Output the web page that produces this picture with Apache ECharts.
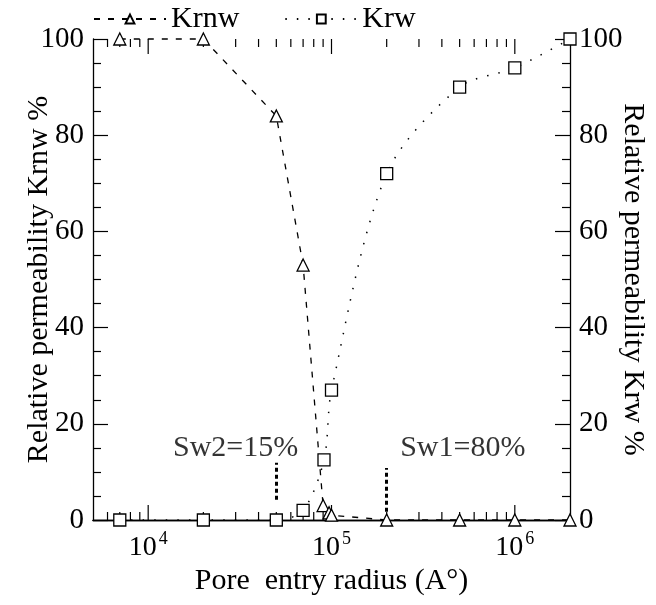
<!DOCTYPE html>
<html>
<head>
<meta charset="utf-8">
<script src="https://cdn.jsdelivr.net/npm/echarts@6/dist/echarts.min.js"></script>
<style>
  html, body { margin: 0; padding: 0; background: #fff; }
  #chart { width: 656px; height: 605px; }
</style>
</head>
<body>
<div id="chart"></div>
<script>
// pore entry radius (A°)
const radius = [7000, 20000, 50000, 70000, 90000, 97000, 100000, 200000, 500000, 1000000, 2000000];
const krnw = [100, 100, 84, 53, 3, 1.5, 1, 0, 0, 0, 0];
const krwRadius = [7000, 20000, 50000, 70000, 91000, 100000, 200000, 500000, 1000000, 2000000];
const krw = [0, 0, 0, 2, 12.5, 27, 72, 90, 94, 100];

// annotations
const noteText = ['Sw2=15%', 'Sw1=80%'];
const noteX = [30000, 520000];
const noteY = [15, 15];
const markX = [50000, 200000];
const markFrom = [4.2, 1.7];
const markTo = [11.9, 10.8];

const yTicks = [0, 20, 40, 60, 80, 100];
const majorX = [10000, 100000, 1000000];

const FONT = '"Liberation Serif", "Times New Roman", serif';

// x ticks: powers of ten long, 2..9 of each decade short
const xTicks = majorX.map(v => [v, 15]);
[1e3, 1e4, 1e5, 1e6].forEach(d => {
    for (let k = 2; k <= 9; k++) {
        const v = k * d;
        if (v > 5000 && v < 2000000) xTicks.push([v, 8]);
    }
});

const chart = echarts.init(document.getElementById('chart'));

const isPow10 = v => Math.abs(Math.log10(v) - Math.round(Math.log10(v))) < 1e-6;

const axisLine = { lineStyle: { color: '#000', width: 1.3 } };
const yTick = { show: true, inside: true, length: 15, lineStyle: { color: '#000', width: 1.2 } };
const yMinor = { show: true, splitNumber: 4, length: 8, lineStyle: { color: '#000', width: 1.2 } };
const yLabel = { margin: 9, fontFamily: FONT, fontSize: 29, color: '#000',
    formatter: v => yTicks.includes(v) ? String(v) : '' };
const nameStyle = { fontFamily: FONT, fontSize: 30, color: '#000' };

const option = {
    animation: false,
    backgroundColor: '#fff',
    textStyle: { fontFamily: FONT, color: '#000' },
    legend: {
        data: ['Krnw', 'Krw'],
        left: 88,
        top: -1,
        itemWidth: 72,
        itemHeight: 11,
        itemGap: 45,
        textStyle: { fontFamily: FONT, fontSize: 30, color: '#000' }
    },
    grid: { left: 93, right: 86, top: 39, bottom: 85, outerBoundsMode: 'none', containLabel: false },
    xAxis: [
        {
            type: 'log',
            min: 5000,
            max: 2000000,
            position: 'bottom',
            name: 'Pore  entry radius (A°)',
            nameLocation: 'middle',
            nameGap: 46,
            nameMoveOverlap: false,
            nameTextStyle: nameStyle,
            axisLine: axisLine,
            axisTick: { show: false },
            splitLine: { show: false },
            axisLabel: {
                margin: 10,
                formatter: v => isPow10(v) ? '{b|10}{e|' + Math.round(Math.log10(v)) + '}' : '',
                rich: {
                    b: { fontFamily: FONT, fontSize: 28, color: '#000' },
                    e: { fontFamily: FONT, fontSize: 18, color: '#000', padding: [0, 0, 18, 2] }
                }
            }
        },
        {
            type: 'log',
            min: 5000,
            max: 2000000,
            position: 'top',
            axisLine: axisLine,
            axisTick: { show: false },
            axisLabel: { show: false },
            splitLine: { show: false }
        }
    ],
    yAxis: [
        {
            type: 'value',
            min: 0,
            max: 100,
            interval: 20,
            position: 'left',
            name: 'Relative permeability Krnw %',
            nameLocation: 'middle',
            nameGap: 39,
            nameMoveOverlap: false,
            nameTextStyle: nameStyle,
            axisLine: { show: true, lineStyle: { color: '#000', width: 1.3 } },
            axisTick: yTick,
            minorTick: yMinor,
            splitLine: { show: false },
            axisLabel: yLabel
        },
        {
            type: 'value',
            min: 0,
            max: 100,
            interval: 20,
            position: 'right',
            name: 'Relative permeability Krw %',
            nameLocation: 'middle',
            nameRotate: -90,
            nameGap: 48,
            nameMoveOverlap: false,
            nameTextStyle: nameStyle,
            axisLine: { show: true, lineStyle: { color: '#000', width: 1.3 } },
            axisTick: yTick,
            minorTick: yMinor,
            splitLine: { show: false },
            axisLabel: yLabel
        }
    ],
    series: [
        {
            name: 'xticks',
            type: 'custom',
            silent: true,
            xAxisIndex: 0,
            yAxisIndex: 0,
            data: xTicks,
            renderItem: (params, api) => {
                const x = api.coord([api.value(0), 0])[0];
                const len = api.value(1);
                const cs = params.coordSys;
                const st = { stroke: '#000', lineWidth: 1.2 };
                return {
                    type: 'group',
                    children: [
                        { type: 'line', shape: { x1: x, y1: cs.y + cs.height, x2: x, y2: cs.y + cs.height - len }, style: st },
                        { type: 'line', shape: { x1: x, y1: cs.y, x2: x, y2: cs.y + len }, style: st }
                    ]
                };
            }
        },
        {
            name: 'Krnw',
            type: 'line',
            data: radius.map((r, i) => [r, krnw[i]]),
            smooth: false,
            clip: false,
            symbol: 'triangle',
            symbolSize: 12,
            itemStyle: { color: '#fff', borderColor: '#000', borderWidth: 1.3 },
            lineStyle: { color: '#000', width: 1.3, type: [6, 8] },
            z: 3
        },
        {
            name: 'Krw',
            type: 'line',
            data: krwRadius.map((r, i) => [r, krw[i]]),
            smooth: 0.3,
            clip: false,
            symbol: 'rect',
            symbolSize: 12,
            itemStyle: { color: '#fff', borderColor: '#000', borderWidth: 1.3 },
            lineStyle: { color: '#000', width: 1.5, type: [1.5, 10] },
            z: 3
        },
        {
            name: 'notes',
            type: 'scatter',
            silent: true,
            symbolSize: 0,
            data: noteText.map((t, i) => [noteX[i], noteY[i], t]),
            label: {
                show: true,
                position: 'inside',
                formatter: p => p.data[2],
                fontFamily: FONT,
                fontSize: 30,
                color: '#000'
            },
            markLine: {
                silent: true,
                symbol: 'none',
                label: { show: false },
                lineStyle: { color: '#000', width: 3, type: [4, 3] },
                data: markX.map((x, i) => [{ coord: [x, markFrom[i]] }, { coord: [x, markTo[i]] }])
            }
        }
    ]
};

chart.setOption(option);
</script>
</body>
</html>
